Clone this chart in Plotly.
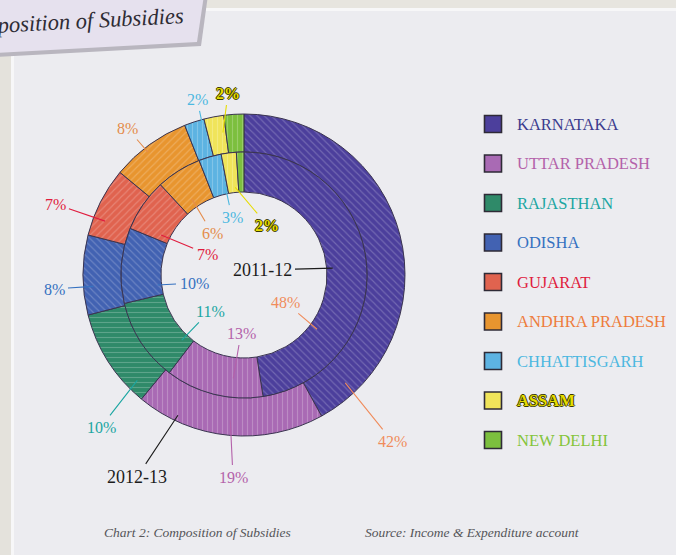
import math
import plotly.graph_objects as go

W, H = 676, 555

# ---- data -------------------------------------------------------------
states = ["KARNATAKA", "UTTAR PRADESH", "RAJASTHAN", "ODISHA", "GUJARAT",
          "ANDHRA PRADESH", "CHHATTISGARH", "ASSAM", "NEW DELHI"]
share_2011_12 = [48, 13, 11, 10, 7, 6, 3, 2, 1]
share_2012_13 = [42, 19, 10, 8, 7, 8, 2, 2, 2]
labelled = [True, True, True, True, True, True, True, True, False]

# ---- styling ----------------------------------------------------------
slice_colors = ["#4c3f9c", "#a96ab4", "#2f8a69", "#4262b2", "#e0634f",
                "#e8952f", "#5db3e2", "#f0e45a", "#7cbf3e"]
pct_colors = ["#f08c5c", "#b462aa", "#1ba6a2", "#3571c0", "#e01c3e",
              "#e48c4c", "#4cb8e0", "#e6dc00", "#84c43a"]
legend_colors = ["#3c3c8e", "#b462aa", "#1ba6a2", "#3571c0", "#e01c3e",
                 "#ee7c3c", "#4cb8e0", "#e6dc00", "#84c43a"]
hatch = ["\\", "|", "-", "\\", "/", "/", "|", "|", "|"]

SERIF = "Liberation Serif"
CX, CY = 244, 275           # centre of the rings (px)
R_OUT, R_OUT_HOLE = 161, 123
R_IN, R_IN_HOLE = 123, 83

# label placement: fraction along slice, radius of leader start, text centre
outer_frac = [0.905, 0.50, 0.16, 0.35, 0.27, 0.43, 0.86, 0.83]
outer_rad = [148, 146, 150, 151, 149, 156, 158, 144]
outer_text = [(392, 441), (233, 477), (101, 427), (54, 289), (55, 204),
              (127, 128), (197, 99), (228, 93)]
inner_frac = [0.74, 0.32, 0.16, 0.19, 0.14, 0.39, 0.88, 0.70]
inner_rad = [91, 104, 90, 87, 92, 92, 90, 88]
inner_text = [(285, 302), (241, 333), (210, 311), (194, 283), (207, 254),
              (212, 233), (232, 217), (267, 225)]


def domain(r):
    return dict(x=[(CX - r) / W, (CX + r) / W],
                y=[1 - (CY + r) / H, 1 - (CY - r) / H])


def ring_point(values, idx, frac, r):
    total = sum(values)
    start = sum(values[:idx]) / total * 360
    ang = math.radians(start + frac * values[idx] / total * 360)
    return CX + r * math.sin(ang), CY - r * math.cos(ang)


def ring(values, r, hole, name):
    return go.Pie(
        values=values, labels=states, name=name, domain=domain(r),
        hole=hole, sort=False, direction="clockwise", rotation=0,
        textinfo="none", hoverinfo="label+percent", showlegend=False,
        marker=dict(colors=slice_colors,
                    line=dict(color="#3a3450", width=1),
                    pattern=dict(shape=hatch, fillmode="overlay",
                                 fgcolor="#ffffff", fgopacity=0.22,
                                 size=5, solidity=0.22)),
    )


fig = go.Figure()
fig.add_trace(ring(share_2012_13, R_OUT, R_OUT_HOLE / R_OUT, "2012-13"))
fig.add_trace(ring(share_2011_12, R_IN, R_IN_HOLE / R_IN, "2011-12"))

# legend swatches
leg_x, leg_y0, leg_dy = 493, 124, 39.5
leg_y = [leg_y0 + i * leg_dy for i in range(len(states))]
fig.add_trace(go.Scatter(
    x=[leg_x] * len(states), y=leg_y, mode="markers", hoverinfo="skip",
    showlegend=False,
    marker=dict(symbol="square", size=17, color=slice_colors,
                line=dict(color="#2e2a36", width=1.6)),
))

annotations = []
shapes = []


def leader(x, y, tx, ty, text, color, size=16, font_extra=None):
    font = dict(family=SERIF, size=size, color=color)
    if font_extra:
        font.update(font_extra)
    annotations.append(dict(
        x=x, y=y, xref="x", yref="y", ax=tx, ay=ty, axref="x", ayref="y",
        text=text, showarrow=True, arrowhead=0, arrowwidth=1.1,
        arrowcolor=color, standoff=0, startstandoff=2, font=font))


assam_font = dict(weight="bold",
                  shadow="1px 0 #3a3a00, -1px 0 #3a3a00, 0 1px #3a3a00, 0 -1px #3a3a00")

for i, v in enumerate(share_2012_13):
    if not labelled[i]:
        continue
    px, py = ring_point(share_2012_13, i, outer_frac[i], outer_rad[i])
    tx, ty = outer_text[i]
    leader(px, py, tx, ty, f"{v}%", pct_colors[i],
           font_extra=assam_font if states[i] == "ASSAM" else None)

for i, v in enumerate(share_2011_12):
    if not labelled[i]:
        continue
    px, py = ring_point(share_2011_12, i, inner_frac[i], inner_rad[i])
    tx, ty = inner_text[i]
    leader(px, py, tx, ty, f"{v}%", pct_colors[i],
           font_extra=assam_font if states[i] == "ASSAM" else None)

# year labels
px, py = ring_point(share_2011_12, 0, 0.50, 89)
leader(px, py, 262, 270, "2011-12", "#1c1c1c", size=18)
px, py = ring_point(share_2012_13, 1, 0.79, 155)
leader(px, py, 137, 477, "2012-13", "#1c1c1c", size=18)

# legend text
for i, s in enumerate(states):
    font = dict(family=SERIF, size=16.5, color=legend_colors[i])
    if s == "ASSAM":
        font.update(assam_font)
    annotations.append(dict(x=515, y=leg_y[i], xref="x", yref="y",
                            xanchor="left", yanchor="middle", text=s,
                            showarrow=False, font=font))

# captions
annotations.append(dict(x=197, y=532, xref="x", yref="y", showarrow=False,
                        text="Chart 2: Composition of Subsidies",
                        font=dict(family=SERIF, size=13.5, color="#555558",
                                  style="italic")))
annotations.append(dict(x=472, y=532, xref="x", yref="y", showarrow=False,
                        text="Source: Income & Expenditure account",
                        font=dict(family=SERIF, size=13.5, color="#555558",
                                  style="italic")))

# page background: binding strip, panel edges, title tab
shapes += [
    dict(type="rect", x0=0, x1=11, y0=0, y1=H, xref="x", yref="y",
         fillcolor="#e4e2dc", line=dict(width=0), layer="below"),
    dict(type="rect", x0=11, x1=14, y0=0, y1=H, xref="x", yref="y",
         fillcolor="#f7f7f8", line=dict(width=0), layer="below"),
    dict(type="rect", x0=0, x1=W, y0=0, y1=8, xref="x", yref="y",
         fillcolor="#e7e5df", line=dict(width=0), layer="below"),
    dict(type="rect", x0=0, x1=W, y0=8, y1=11, xref="x", yref="y",
         fillcolor="#f7f7f8", line=dict(width=0), layer="below"),
    dict(type="path", path="M -5,-5 L 208,-5 L 201,46 L -5,57 Z",
         xref="x", yref="y", fillcolor="#b9b6bf", line=dict(width=0),
         layer="below"),
    dict(type="path", path="M -5,-5 L 204,-5 L 197,42 L -5,53 Z",
         xref="x", yref="y", fillcolor="#e6e1ee", line=dict(width=0),
         layer="below"),
]
annotations.append(dict(x=69, y=21, xref="x", yref="y", showarrow=False,
                        text="Composition of Subsidies", textangle=-3,
                        font=dict(family=SERIF, size=22.5, color="#2e2c34",
                                  style="italic")))

fig.update_layout(
    width=W, height=H, margin=dict(l=0, r=0, t=0, b=0),
    paper_bgcolor="#ececf0", plot_bgcolor="rgba(0,0,0,0)",
    xaxis=dict(range=[0, W], visible=False, fixedrange=True),
    yaxis=dict(range=[H, 0], visible=False, fixedrange=True),
    shapes=shapes, annotations=annotations, showlegend=False,
)

fig.write_html("out.html")
